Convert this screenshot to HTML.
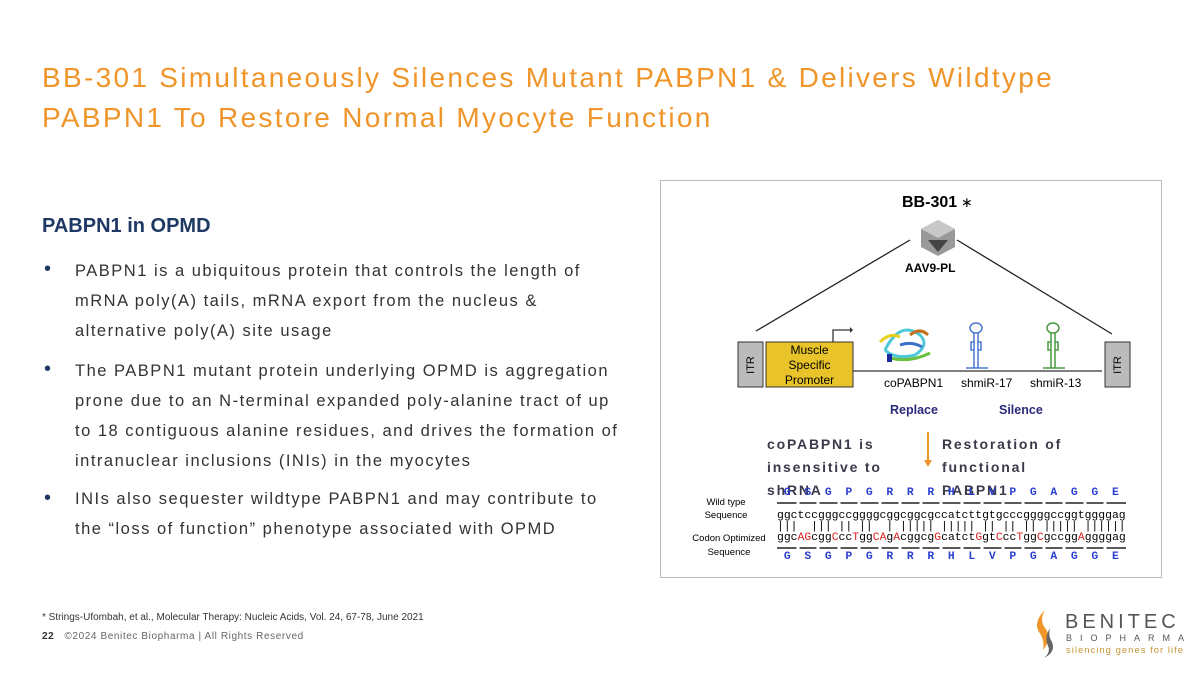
<!DOCTYPE html>
<html><head><meta charset="utf-8"><style>
body{margin:0;width:1200px;height:675px;background:#fff;position:relative;overflow:hidden;font-family:"Liberation Sans",sans-serif}
.a{position:absolute;white-space:nowrap}
.t{color:#F0952A;font-size:28px;letter-spacing:2.3px;left:42px}
.b{color:#333;font-size:16.5px;letter-spacing:1.5px;left:75px}
.dot{color:#1F3864;font-size:20px;left:44px}
.m{font-family:"Liberation Mono",monospace;font-size:11.4px;left:777px;white-space:pre;line-height:12px}
.r{color:#e02020}
.bl{color:#2a3fd0;font-weight:bold}
.n{color:#3a3a4a;font-weight:bold;font-size:14px;letter-spacing:1.8px}
</style></head><body>
<div class="a t" style="top:62px">BB-301 Simultaneously Silences Mutant PABPN1 &amp; Delivers Wildtype</div>
<div class="a t" style="top:102px">PABPN1 To Restore Normal Myocyte Function</div>
<div class="a" style="left:42px;top:215px;color:#1F3864;font-size:20px;font-weight:bold">PABPN1 in OPMD</div>
<div class="a dot" style="top:258px">•</div>
<div class="a b" style="top:262px">PABPN1 is a ubiquitous protein that controls the length of</div>
<div class="a b" style="top:292px">mRNA poly(A) tails, mRNA export from the nucleus &amp;</div>
<div class="a b" style="top:322px">alternative poly(A) site usage</div>
<div class="a dot" style="top:358px">•</div>
<div class="a b" style="top:362px">The PABPN1 mutant protein underlying OPMD is aggregation</div>
<div class="a b" style="top:392px">prone due to an N-terminal expanded poly-alanine tract of up</div>
<div class="a b" style="top:422px">to 18 contiguous alanine residues, and drives the formation of</div>
<div class="a b" style="top:452px">intranuclear inclusions (INIs) in the myocytes</div>
<div class="a dot" style="top:487px">•</div>
<div class="a b" style="top:490px">INIs also sequester wildtype PABPN1 and may contribute to</div>
<div class="a b" style="top:520px">the “loss of function” phenotype associated with OPMD</div>

<div class="a" style="left:660px;top:180px;width:500px;height:396px;border:1px solid #bbb"></div>
<svg class="a" style="left:0;top:0" width="1200" height="675">
<line x1="756" y1="331" x2="910" y2="240" stroke="#222" stroke-width="1.3"/>
<line x1="957" y1="240" x2="1112" y2="334" stroke="#222" stroke-width="1.3"/>
<polygon points="938,220 955,229 955,247 938,256 921,247 921,229" fill="#999"/>
<polygon points="921,229 938,238 955,229 938,220" fill="#c8c8c8"/>
<polygon points="928,240 948,240 938,252" fill="#444"/>
<rect x="738" y="342" width="25" height="45" fill="#bbb" stroke="#333"/>
<rect x="1105" y="342" width="25" height="45" fill="#bbb" stroke="#333"/>
<rect x="766" y="342" width="87" height="45" fill="#E8C32A" stroke="#333"/>
<line x1="853" y1="371" x2="1102" y2="371" stroke="#333" stroke-width="1.3"/>
<polyline points="833,342 833,330 850,330" fill="none" stroke="#333" stroke-width="1.3"/>
<polygon points="850,327 853,330 850,333" fill="#333"/>
<g fill="none" stroke-width="3">
<path d="M885 350 q15 -30 35 -15 q10 10 -5 20 q-20 5 -30 -5" stroke="#4cc8d8"/>
<path d="M880 342 q10 -10 20 -5" stroke="#e8d020"/>
<path d="M890 358 q20 5 40 -5" stroke="#6cc040"/>
<path d="M910 335 q10 -8 18 0" stroke="#c07020"/>
<path d="M900 345 q12 -4 22 2" stroke="#3a70c8"/>
</g>
<rect x="887" y="354" width="5" height="8" fill="#1a2aa0"/>
<g fill="none" stroke="#4a78d0" stroke-width="1.5"><ellipse cx="976" cy="328" rx="6" ry="5"/><path d="M974 333v35M978 333v35M974 342h-3v8h3M978 342h3v8h-3"/><path d="M966 368h22"/></g>
<g fill="none" stroke="#4a9a40" stroke-width="1.5"><ellipse cx="1053" cy="328" rx="6" ry="5"/><path d="M1051 333v35M1055 333v35M1051 342h-3v8h3M1055 342h3v8h-3"/><path d="M1043 368h22"/></g>
<line x1="928" y1="432" x2="928" y2="462" stroke="#F0952A" stroke-width="2"/>
<polygon points="924,460 932,460 928,467" fill="#F0952A"/>
<g stroke="#222" stroke-width="1.5"><line x1="777" y1="503" x2="1126" y2="503"/><line x1="777" y1="548" x2="1126" y2="548"/></g>
<g stroke="#fff" stroke-width="3">
<line x1="798" y1="500" x2="798" y2="551"/><line x1="818" y1="500" x2="818" y2="551"/><line x1="839" y1="500" x2="839" y2="551"/><line x1="859" y1="500" x2="859" y2="551"/><line x1="880" y1="500" x2="880" y2="551"/><line x1="900" y1="500" x2="900" y2="551"/><line x1="921" y1="500" x2="921" y2="551"/><line x1="941" y1="500" x2="941" y2="551"/><line x1="962" y1="500" x2="962" y2="551"/><line x1="982" y1="500" x2="982" y2="551"/><line x1="1003" y1="500" x2="1003" y2="551"/><line x1="1023" y1="500" x2="1023" y2="551"/><line x1="1044" y1="500" x2="1044" y2="551"/><line x1="1064" y1="500" x2="1064" y2="551"/><line x1="1085" y1="500" x2="1085" y2="551"/><line x1="1105" y1="500" x2="1105" y2="551"/>
</g>
</svg>
<div class="a" style="left:902px;top:194px;font-weight:bold;font-size:16px">BB-301<span style="font-size:14px;font-weight:normal"> ∗</span></div>
<div class="a" style="left:905px;top:261px;font-weight:bold;font-size:12px">AAV9-PL</div>
<div class="a" style="left:738px;top:342px;width:25px;height:45px;font-size:11px;display:flex;align-items:center;justify-content:center"><span style="transform:rotate(-90deg)">ITR</span></div>
<div class="a" style="left:1105px;top:342px;width:25px;height:45px;font-size:11px;display:flex;align-items:center;justify-content:center"><span style="transform:rotate(-90deg)">ITR</span></div>
<div class="a" style="left:766px;top:343px;width:87px;text-align:center;font-size:12px;line-height:15px">Muscle<br>Specific<br>Promoter</div>
<div class="a" style="left:884px;top:376px;font-size:12px">coPABPN1</div>
<div class="a" style="left:961px;top:376px;font-size:12px">shmiR-17</div>
<div class="a" style="left:1030px;top:376px;font-size:12px">shmiR-13</div>
<div class="a" style="left:890px;top:403px;font-size:12.5px;font-weight:bold;color:#2B2B7B">Replace</div>
<div class="a" style="left:999px;top:403px;font-size:12.5px;font-weight:bold;color:#2B2B7B">Silence</div>
<div class="a n" style="left:767px;top:433px;line-height:23px">coPABPN1 is<br>insensitive to<br>shRNA</div>
<div class="a n" style="left:942px;top:433px;line-height:23px">Restoration of<br>functional<br>PABPN1</div>
<div class="a m bl" style="top:487px"> G  S  G  P  G  R  R  R  H  L  V  P  G  A  G  G  E</div>
<div class="a m" style="top:510px">ggctccgggccggggcggcggcgccatcttgtgcccggggccggtggggag</div>
<div class="a m" style="top:521px">|||  ||| || ||  | ||||| ||||| || || || ||||| ||||||</div>
<div class="a m" style="top:532px">ggc<span class="r">AG</span>cgg<span class="r">C</span>cc<span class="r">T</span>gg<span class="r">CA</span>g<span class="r">A</span>cggcg<span class="r">G</span>catct<span class="r">G</span>gt<span class="r">C</span>cc<span class="r">T</span>gg<span class="r">C</span>gccgg<span class="r">A</span>ggggag</div>
<div class="a m bl" style="top:551px"> G  S  G  P  G  R  R  R  H  L  V  P  G  A  G  G  E</div>
<div class="a" style="left:686px;top:496px;width:80px;text-align:center;font-size:9.5px;line-height:13px">Wild type<br>Sequence</div>
<div class="a" style="left:683px;top:532px;width:92px;text-align:center;font-size:9.5px;line-height:14px">Codon Optimized<br>Sequence</div>

<div class="a" style="left:42px;top:612px;font-size:10px;color:#333">* Strings-Ufombah, et al., Molecular Therapy: Nucleic Acids, Vol. 24, 67-78, June 2021</div>
<div class="a" style="left:42px;top:631px;font-size:10px;color:#666;letter-spacing:0.6px"><b style="color:#333">22</b>&nbsp;&nbsp; ©2024 Benitec Biopharma | All Rights Reserved</div>
<svg class="a" style="left:1030px;top:608px" width="30" height="50">
<path d="M15 2 q-12 12 -6 22 q6 8 4 18 q10 -12 2 -22 q-6 -8 0 -18z" fill="#F0952A"/>
<path d="M20 20 q-6 10 -2 18 q3 6 -4 12 q12 -6 8 -16 q-4 -6 -2 -14z" fill="#666"/>
</svg>
<div class="a" style="left:1065px;top:611px;font-size:20px;letter-spacing:4px;color:#555">BENITEC</div>
<div class="a" style="left:1066px;top:633px;font-size:9px;letter-spacing:8px;color:#555">BIOPHARMA</div>
<div class="a" style="left:1066px;top:645px;font-size:9.5px;letter-spacing:1px;color:#c8953a">silencing genes for life</div>
</body></html>
